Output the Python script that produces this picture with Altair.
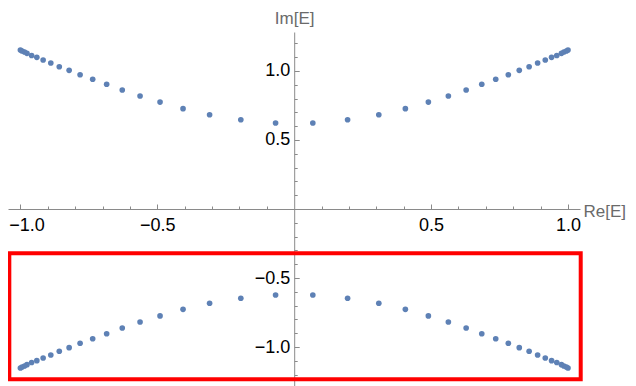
import altair as alt
import pandas as pd

re_abs = [0.068, 0.195, 0.309, 0.406, 0.490, 0.563, 0.628, 0.685, 0.736, 0.782,
          0.822, 0.858, 0.889, 0.917, 0.940, 0.959, 0.976, 0.985, 0.994, 1.000]
# Matching |Im E|
im_abs = [0.623, 0.647, 0.683, 0.727, 0.775, 0.819, 0.862, 0.904, 0.940, 0.973,
          1.005, 1.031, 1.058, 1.080, 1.099, 1.112, 1.128, 1.138, 1.145, 1.152]

# highlighted region (red box)
box_re = [-1.0405, 1.0464]
box_im = [-0.321, -1.234]

major_ticks = [-1.0, -0.5, 0.5, 1.0]
x_minor = [-0.9, -0.8, -0.7, -0.6, -0.4, -0.3, -0.2, -0.1,
           0.1, 0.2, 0.3, 0.4, 0.6, 0.7, 0.8, 0.9]
y_minor = [-1.2, -1.1, -0.9, -0.8, -0.7, -0.6, -0.4, -0.3, -0.2, -0.1,
           0.1, 0.2, 0.3, 0.4, 0.6, 0.7, 0.8, 0.9, 1.1, 1.2]

rows = []
for r, i in zip(re_abs, im_abs):
    for sr in (-1, 1):
        for si in (-1, 1):
            rows.append({"re": sr * r, "im": si * i})
pts = pd.DataFrame(rows)
box = pd.DataFrame({"x1": [box_re[0]], "x2": [box_re[1]],
                    "y1": [box_im[0]], "y2": [box_im[1]]})

GRAY = "#8a8a8a"
FONT = "Liberation Sans"
xs = alt.Scale(domain=[-1.0453, 1.0438], nice=False, zero=False)
ys = alt.Scale(domain=[-1.2826, 1.2826], nice=False, zero=False)

x_major = alt.Axis(orient="top", offset=-177, values=major_ticks, format=".1f",
                   tickSize=5, tickColor=GRAY, domainColor=GRAY, tickWidth=1,
                   domainWidth=1, grid=False, labelFlush=False, labelOverlap=False,
                   labelPadding=-21.5, labelBaseline="middle", labelAlign="center",
                   labelOffset=alt.condition("datum.value < -0.9", alt.value(6), alt.value(0)),
                   labelFont=FONT, labelFontSize=18, labelColor="black",
                   title="Re[E]", titleX=575, titleY=2, titleAlign="left",
                   titleBaseline="middle", titleAngle=0, titleColor="#6a6a6a",
                   titleFont=FONT, titleFontSize=17, titleFontWeight="normal")
y_major = alt.Axis(orient="right", offset=-285.8, values=major_ticks, format=".1f",
                   tickSize=5, tickColor=GRAY, domainColor=GRAY, tickWidth=1,
                   domainWidth=1, grid=False, labelFlush=False, labelOverlap=False,
                   labelPadding=-9.5, labelBaseline="middle", labelAlign="right",
                   labelFont=FONT, labelFontSize=18, labelColor="black",
                   title="Im[E]", titleX=0, titleY=-14, titleAlign="center",
                   titleBaseline="middle", titleAngle=0, titleColor="#6a6a6a",
                   titleFont=FONT, titleFontSize=17, titleFontWeight="normal")
x_min = alt.Axis(orient="top", offset=-177, values=x_minor, tickSize=3,
                 tickColor=GRAY, tickWidth=1, domain=False, labels=False,
                 grid=False, title=None)
y_min = alt.Axis(orient="right", offset=-285.8, values=y_minor, tickSize=3,
                 tickColor=GRAY, tickWidth=1, domain=False, labels=False,
                 grid=False, title=None)

points = alt.Chart(pts).mark_circle(size=32, color="#5E81B5", opacity=1).encode(
    x=alt.X("re:Q", scale=xs, axis=x_major),
    y=alt.Y("im:Q", scale=ys, axis=y_major),
)
rect = alt.Chart(box).mark_rect(filled=False, stroke="#ff0000", strokeWidth=4,
                                fill=None).encode(
    x=alt.X("x1:Q", scale=xs, axis=x_min),
    x2="x2:Q",
    y=alt.Y("y1:Q", scale=ys, axis=y_min),
    y2="y2:Q",
)

chart = alt.layer(points, rect).resolve_axis(x="independent", y="independent").properties(
    width=572, height=354,
    autosize=alt.AutoSizeParams(type="none"),
    padding={"left": 0, "top": 24, "right": 48, "bottom": 0},
    background="white",
).configure_view(stroke=None)

chart.save("out.html", embed_options={"renderer": "svg", "actions": False})
